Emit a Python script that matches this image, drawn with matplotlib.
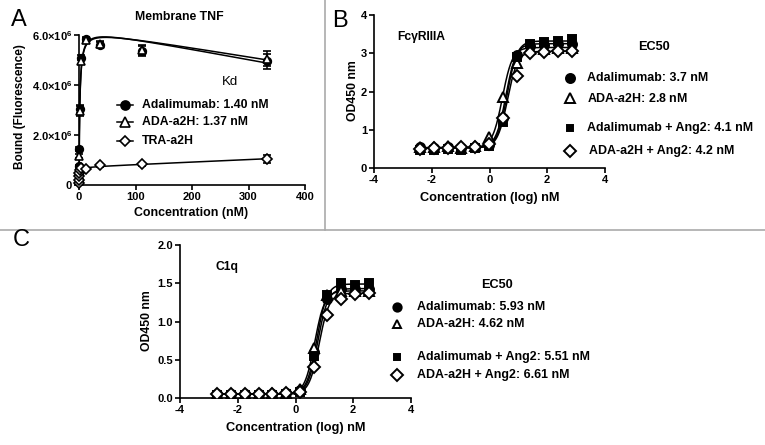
import numpy as np
import matplotlib
matplotlib.use("Agg")
import matplotlib.pyplot as plt
from matplotlib.lines import Line2D

plt.rcParams['font.family'] = ['Liberation Sans', 'DejaVu Sans']
plt.rcParams['font.weight'] = 'bold'
plt.rcParams['mathtext.fontset'] = 'custom'
plt.rcParams['mathtext.rm'] = 'Liberation Sans:bold'
plt.rcParams['mathtext.it'] = 'Liberation Sans:bold:italic'
plt.rcParams['mathtext.bf'] = 'Liberation Sans:bold'

W, H = 765, 445

# Panel A: Membrane TNF binding (nM, fluorescence x1e6)
conc_a = [0.017, 0.051, 0.152, 0.457, 1.37, 4.12, 12.3, 37.0, 111.1, 333.3]
ada_a = [0.20, 0.45, 0.75, 1.45, 3.05, 5.10, 5.85, 5.62, 5.35, 4.95]
ada_a_err = [0.05, 0.05, 0.05, 0.08, 0.15, 0.10, 0.08, 0.10, 0.20, 0.30]
a2h_a = [0.15, 0.35, 0.65, 1.15, 2.95, 4.95, 5.80, 5.65, 5.40, 5.05]
a2h_a_err = [0.05, 0.05, 0.05, 0.08, 0.20, 0.10, 0.08, 0.10, 0.20, 0.30]
tra_a = [0.10, 0.20, 0.35, 0.50, 0.60, 0.68, 0.65, 0.80, 0.83, 1.05]
tra_a_err = [0.03, 0.03, 0.03, 0.04, 0.05, 0.05, 0.05, 0.06, 0.05, 0.15]
# fit parameters (Bmax, Kd, linear term)
fit_ada_a = (6.26, 1.40, -0.0037)
fit_a2h_a = (6.30, 1.37, -0.0042)
fit_tra_a = (0.72, 1.00, 0.0010)

# Panel B: FcgRIIIA (log nM, OD450)
logc_b = [-2.40, -1.92, -1.45, -0.97, -0.49, -0.02, 0.46, 0.94, 1.41, 1.89, 2.37, 2.85]
ada_b = [0.55, 0.53, 0.55, 0.52, 0.55, 0.60, 1.30, 2.95, 3.20, 3.22, 3.25, 3.25]
a2h_b = [0.55, 0.55, 0.57, 0.52, 0.58, 0.82, 1.85, 2.75, 3.10, 3.12, 3.15, 3.15]
ada_ang_b = [0.48, 0.48, 0.50, 0.48, 0.52, 0.58, 1.20, 2.90, 3.25, 3.30, 3.33, 3.38]
a2h_ang_b = [0.50, 0.52, 0.52, 0.55, 0.55, 0.62, 1.30, 2.40, 3.00, 3.02, 3.05, 3.05]
ec50_b = [3.7, 2.8, 4.1, 4.2]
top_b = [3.25, 3.15, 3.32, 3.05]
labels_b = ["Adalimumab: 3.7 nM", r"ADA-$\it{a}$2H: 2.8 nM",
            "Adalimumab + Ang2: 4.1 nM", "ADA-a2H + Ang2: 4.2 nM"]

# Panel C: C1q
logc_c = [-2.71, -2.23, -1.76, -1.28, -0.80, -0.33, 0.15, 0.63, 1.10, 1.58, 2.06, 2.54]
ada_c = [0.05, 0.05, 0.05, 0.05, 0.05, 0.06, 0.10, 0.60, 1.30, 1.42, 1.43, 1.42]
a2h_c = [0.05, 0.05, 0.05, 0.05, 0.06, 0.07, 0.12, 0.65, 1.35, 1.40, 1.40, 1.40]
ada_ang_c = [0.04, 0.04, 0.04, 0.04, 0.04, 0.05, 0.08, 0.55, 1.35, 1.50, 1.48, 1.50]
a2h_ang_c = [0.05, 0.05, 0.05, 0.05, 0.05, 0.06, 0.08, 0.40, 1.08, 1.30, 1.36, 1.37]
ec50_c = [5.93, 4.62, 5.51, 6.61]
top_c = [1.43, 1.40, 1.49, 1.37]
labels_c = ["Adalimumab: 5.93 nM", "ADA-a2H: 4.62 nM",
            "Adalimumab + Ang2: 5.51 nM", "ADA-a2H + Ang2: 6.61 nM"]

markers = ['o', '^', 's', 'D']
faces = ['black', 'white', 'black', 'white']
msizes = [6.5, 7, 5.5, 6]


def fx(px):
    return px / W


def fy(py):
    return 1 - py / H


def style_axes(ax):
    for s in ['top', 'right']:
        ax.spines[s].set_visible(False)
    for s in ['left', 'bottom']:
        ax.spines[s].set_linewidth(1.2)
    ax.tick_params(direction='out', length=3.5, width=1.2, labelsize=8, pad=1.5)
    for lab in ax.get_xticklabels() + ax.get_yticklabels():
        lab.set_fontweight('bold')


def sigmoid(x, bottom, top, ec50, hill=2.5):
    return bottom + (top - bottom) / (1 + 10 ** ((np.log10(ec50) - x) * hill))


fig = plt.figure(figsize=(W / 100, H / 100), dpi=100)

# separators
fig.add_artist(Line2D([fx(325), fx(325)], [fy(0), fy(230)], color='#aaaaaa', lw=1.2, transform=fig.transFigure))
fig.add_artist(Line2D([0, 1], [fy(230), fy(230)], color='#aaaaaa', lw=1.2, transform=fig.transFigure))

# ---------------- Panel A ----------------
axA = fig.add_axes([fx(79), fy(185), fx(305) - fx(79), fy(35) - fy(185)])
xs = np.linspace(0, 333.3, 2000)
for fit in [fit_ada_a, fit_a2h_a, fit_tra_a]:
    bmax, kd, lin = fit
    axA.plot(xs, (bmax * xs / (kd + xs) + lin * xs) * 1e6, color='black', lw=1.1, zorder=2)
for ys, err, m, fc in [(ada_a, ada_a_err, 'o', 'black'), (a2h_a, a2h_a_err, '^', 'white'),
                       (tra_a, tra_a_err, 'D', 'white')]:
    axA.errorbar(conc_a, np.array(ys) * 1e6, yerr=np.array(err) * 1e6, fmt=m, color='black',
                 mfc=fc, mec='black', ms=5.5 if m != 'D' else 5, mew=1.2, elinewidth=1.1,
                 capsize=3, capthick=1.1, zorder=3, clip_on=False)
axA.set_xlim(0, 400)
axA.set_ylim(0, 6e6)
axA.set_xticks([0, 100, 200, 300, 400])
axA.set_yticks([0, 2e6, 4e6, 6e6])
axA.set_yticklabels(['0', r'2.0×10$^{6}$', r'4.0×10$^{6}$', r'6.0×10$^{6}$'])
style_axes(axA)
fig.text(fx(191), fy(213), "Concentration (nM)", ha='center', va='center', fontsize=8.9, fontweight='bold')
fig.text(fx(20), fy(107), "Bound (Fluorescence)", ha='center', va='center', rotation=90,
         fontsize=8.5, fontweight='bold')
fig.text(fx(179), fy(17), "Membrane TNF", ha='center', va='center', fontsize=8.8, fontweight='bold')
fig.text(fx(19), fy(20), "A", ha='center', va='center', fontsize=17, fontweight='normal')
fig.text(fx(230), fy(82), "Kd", ha='center', va='center', fontsize=9.5, fontweight='normal')
labels_a = ["Adalimumab: 1.40 nM", "ADA-a2H: 1.37 nM", "TRA-a2H"]
for i, (lab, m, fc, yy) in enumerate(zip(labels_a, ['o', '^', 'D'], ['black', 'white', 'white'], [105, 122, 141])):
    fig.add_artist(Line2D([fx(117), fx(133)], [fy(yy), fy(yy)], color='black', lw=1.1,
                          transform=fig.transFigure))
    fig.add_artist(Line2D([fx(125)], [fy(yy)], marker=m, ms=6.5 if m != 'D' else 5.5, mfc=fc,
                          mec='black', mew=1.2, transform=fig.transFigure))
    fig.text(fx(142), fy(yy), lab, ha='left', va='center', fontsize=8.8, fontweight='bold')

# ---------------- Panel B ----------------
axB = fig.add_axes([fx(374), fy(168), fx(605) - fx(374), fy(15) - fy(168)])
xf = np.linspace(-2.4, 2.85, 400)
for ys, ec, top, m, fc, ms in zip([ada_b, a2h_b, ada_ang_b, a2h_ang_b], ec50_b, top_b, markers, faces, msizes):
    axB.plot(xf, sigmoid(xf, 0.53, top, ec), color='black', lw=1.1, zorder=2)
    axB.plot(logc_b, ys, ls='none', marker=m, mfc=fc, mec='black', mew=1.4, ms=ms, zorder=3)
axB.set_xlim(-4, 4)
axB.set_ylim(0, 4)
axB.set_xticks([-4, -2, 0, 2, 4])
axB.set_xticklabels(['-4', '-2', '0', '2', '4'])
axB.set_yticks([0, 1, 2, 3, 4])
style_axes(axB)
fig.text(fx(490), fy(198), "Concentration (log) nM", ha='center', va='center', fontsize=9.2, fontweight='bold')
fig.text(fx(353), fy(91), "OD450 nm", ha='center', va='center', rotation=90, fontsize=8.8, fontweight='bold')
fig.text(fx(397), fy(37), "FcγRIIIA", ha='left', va='center', fontsize=8.7, fontweight='bold')
fig.text(fx(340), fy(21), "B", ha='center', va='center', fontsize=17, fontweight='normal')
fig.text(fx(654), fy(47), "EC50", ha='center', va='center', fontsize=9.2, fontweight='bold')
for lab, m, fc, yy, tx in zip(labels_b, markers, faces, [78, 98, 128, 151], [587, 587, 587, 589]):
    fig.add_artist(Line2D([fx(570)], [fy(yy)], marker=m, ms=6.5 if m != 's' else 5, mfc=fc,
                          mec='black', mew=1.4, transform=fig.transFigure))
    fig.text(fx(tx), fy(yy), lab, ha='left', va='center', fontsize=8.9, fontweight='bold')

# ---------------- Panel C ----------------
axC = fig.add_axes([fx(180), fy(398), fx(411) - fx(180), fy(245) - fy(398)])
xf = np.linspace(-2.71, 2.54, 400)
for ys, ec, top, m, fc, ms in zip([ada_c, a2h_c, ada_ang_c, a2h_ang_c], ec50_c, top_c, markers, faces, msizes):
    axC.plot(xf, sigmoid(xf, 0.05, top, ec), color='black', lw=1.1, zorder=2)
    axC.plot(logc_c, ys, ls='none', marker=m, mfc=fc, mec='black', mew=1.4, ms=ms, zorder=3)
axC.set_xlim(-4, 4)
axC.set_ylim(0, 2)
axC.set_xticks([-4, -2, 0, 2, 4])
axC.set_xticklabels(['-4', '-2', '0', '2', '4'])
axC.set_yticks([0, 0.5, 1.0, 1.5, 2.0])
axC.set_yticklabels(['0.0', '0.5', '1.0', '1.5', '2.0'])
style_axes(axC)
fig.text(fx(296), fy(428), "Concentration (log) nM", ha='center', va='center', fontsize=9.2, fontweight='bold')
fig.text(fx(147), fy(321), "OD450 nm", ha='center', va='center', rotation=90, fontsize=8.8, fontweight='bold')
fig.text(fx(215), fy(267), "C1q", ha='left', va='center', fontsize=8.7, fontweight='bold')
fig.text(fx(21), fy(240), "C", ha='center', va='center', fontsize=17, fontweight='normal')
fig.text(fx(497), fy(285), "EC50", ha='center', va='center', fontsize=9.2, fontweight='bold')
for lab, m, fc, yy in zip(labels_c, markers, faces, [307, 324, 357, 375]):
    fig.add_artist(Line2D([fx(397)], [fy(yy)], marker=m, ms=6 if m != 's' else 5, mfc=fc,
                          mec='black', mew=1.4, transform=fig.transFigure))
    fig.text(fx(417), fy(yy), lab, ha='left', va='center', fontsize=8.9, fontweight='bold')

fig.savefig("out.png", dpi=100)
